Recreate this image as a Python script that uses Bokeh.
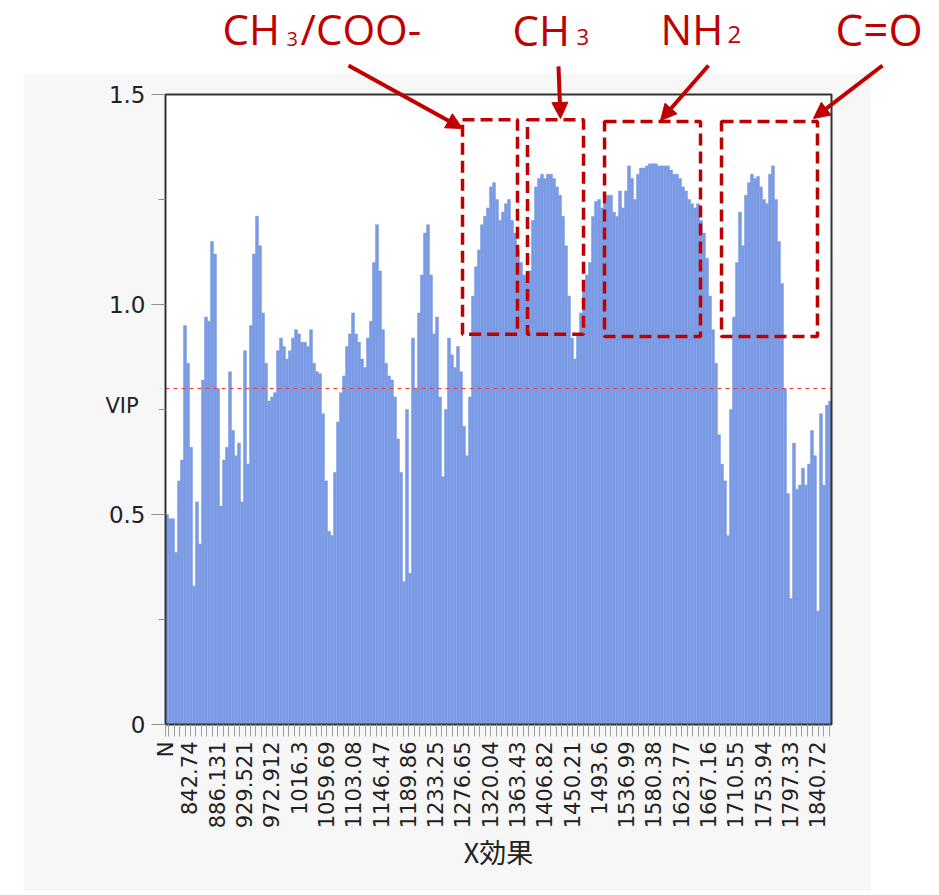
import math
from bokeh.plotting import figure
from bokeh.models import (Range1d, FixedTicker, CustomJSTickFormatter, BoxAnnotation,
                          Label, Arrow, NormalHead)
from bokeh.embed import file_html
from bokeh.resources import INLINE

# ---------------- data ----------------
WN_LO, WN_HI = 803.0, 1862.0          # wavenumber span of the plot area
WN_START, WN_STEP = 805.39, 4.77      # wavenumber grid of the VIP bars
VIP_LO, VIP_HI = 0.0, 1.5

vip = [0.50, 0.49, 0.49, 0.41, 0.58, 0.63, 0.95, 0.86, 0.66, 0.33,
       0.53, 0.43, 0.82, 0.97, 0.96, 1.15, 1.12, 0.80, 0.52, 0.63,
       0.66, 0.84, 0.70, 0.64, 0.67, 0.53, 0.89, 0.62, 0.95, 1.12,
       1.21, 1.14, 0.98, 0.86, 0.77, 0.78, 0.79, 0.89, 0.92, 0.90,
       0.87, 0.89, 0.92, 0.94, 0.93, 0.91, 0.91, 0.90, 0.94, 0.86,
       0.84, 0.835, 0.74, 0.58, 0.46, 0.45, 0.60, 0.72, 0.79, 0.83,
       0.90, 0.93, 0.98, 0.93, 0.91, 0.87, 0.85, 0.92, 0.96, 1.10,
       1.19, 1.08, 0.94, 0.86, 0.83, 0.82, 0.78, 0.68, 0.60, 0.34,
       0.75, 0.36, 0.92, 0.80, 0.98, 1.07, 1.17, 1.19, 1.07, 0.93,
       0.97, 0.78, 0.59, 0.75, 0.92, 0.88, 0.85, 0.90, 0.84, 0.71,
       0.64, 0.78, 1.02, 1.09, 1.13, 1.19, 1.21, 1.23, 1.28, 1.29,
       1.25, 1.20, 1.22, 1.24, 1.25, 1.20, 1.17, 1.13, 1.10, 1.07,
       1.06, 1.08, 1.20, 1.28, 1.30, 1.31, 1.30, 1.31, 1.31, 1.30,
       1.28, 1.26, 1.21, 1.14, 1.02, 0.92, 0.87, 0.93, 0.98, 1.03,
       1.07, 1.10, 1.21, 1.245, 1.25, 1.23, 1.24, 1.26, 1.26, 1.22,
       1.21, 1.27, 1.23, 1.27, 1.33, 1.30, 1.25, 1.31, 1.325, 1.325,
       1.33, 1.335, 1.335, 1.335, 1.33, 1.33, 1.33, 1.33, 1.32, 1.31,
       1.31, 1.30, 1.28, 1.27, 1.25, 1.24, 1.23, 1.24, 1.20, 1.17,
       1.11, 1.02, 0.94, 0.86, 0.69, 0.62, 0.58, 0.45, 0.75, 0.97,
       1.10, 1.22, 1.14, 1.26, 1.29, 1.31, 1.30, 1.305, 1.28, 1.25,
       1.24, 1.31, 1.33, 1.25, 1.15, 1.05, 0.80, 0.55, 0.30, 0.67,
       0.56, 0.57, 0.61, 0.57, 0.62, 0.70, 0.64, 0.27, 0.74, 0.57,
       0.76, 0.77]

x_tick_labels = ["N", "842.74", "886.131", "929.521", "972.912", "1016.3", "1059.69",
                 "1103.08", "1146.47", "1189.86", "1233.25", "1276.65", "1320.04",
                 "1363.43", "1406.82", "1450.21", "1493.6", "1536.99", "1580.38",
                 "1623.77", "1667.16", "1710.55", "1753.94", "1797.33", "1840.72"]
x_tick_pos = [WN_LO] + [float(s) for s in x_tick_labels[1:]]
LABEL_STEP = 43.39

y_ticks = [0, 0.5, 1.0, 1.5]
y_minor = [0.25, 0.75, 1.25]
VIP_THRESHOLD = 0.8

# highlighted regions (wn_left, wn_right, vip_bottom, vip_top)
regions = [
    (1275.3, 1362.7, 0.929, 1.440),
    (1378.6, 1467.7, 0.929, 1.440),
    (1501.1, 1653.7, 0.924, 1.436),
    (1687.1, 1839.7, 0.924, 1.436),
]

wn = [WN_START + WN_STEP * i for i in range(len(vip))]

# ---------------- geometry ----------------
W, H = 935, 891                  # canvas = frame (axes are drawn inside it)
PLOT_L, PLOT_T, PLOT_W, PLOT_H = 165, 94, 666, 630
PX_PER_WN = PLOT_W / (WN_HI - WN_LO)
PX_PER_VIP = PLOT_H / (VIP_HI - VIP_LO)
x_range = Range1d(WN_LO - PLOT_L / PX_PER_WN, WN_LO + (W - PLOT_L) / PX_PER_WN)
y_range = Range1d(VIP_LO - (H - PLOT_T - PLOT_H) / PX_PER_VIP, VIP_HI + PLOT_T / PX_PER_VIP)

RED = "#c00000"
TXT = "#222222"
GREY_BG = "#f7f7f7"

p = figure(frame_width=W, frame_height=H, min_border=0,
           x_range=x_range, y_range=y_range,
           output_backend="svg", toolbar_location=None,
           border_fill_color="white", background_fill_color="white")
p.grid.visible = False
p.outline_line_color = None

# grey panel and white plot area
p.quad(left=[577.2], right=[1924.0], bottom=[-0.6], top=[1.55],
       fill_color=GREY_BG, line_color=None)
p.quad(left=[WN_LO], right=[WN_HI], bottom=[VIP_LO], top=[VIP_HI],
       fill_color="white", line_color=None)

# VIP bars
p.vbar(x=wn, top=vip, width=WN_STEP, bottom=0,
       fill_color="#7b9ae4", line_color="#7b9ae4", line_width=0.5)

# threshold line
p.segment(x0=[WN_LO], y0=[VIP_THRESHOLD], x1=[WN_HI], y1=[VIP_THRESHOLD],
          line_color="#f03a3a", line_dash="4 4", line_width=1.2)

# plot box
p.quad(left=[WN_LO], right=[WN_HI], bottom=[VIP_LO], top=[VIP_HI],
       fill_alpha=0, line_color="#333333", line_width=2)

# ---------------- axes (drawn at fixed locations inside the canvas) ----------------
xa = p.xaxis[0]
xa.fixed_location = VIP_LO
xa.bounds = (WN_LO, WN_HI)
xa.ticker = FixedTicker(
    ticks=x_tick_pos,
    minor_ticks=[x_tick_pos[1] + k * LABEL_STEP / 5 for k in range(-4, 120)
                 if WN_LO < x_tick_pos[1] + k * LABEL_STEP / 5 < WN_HI and k % 5 != 0])
xa.major_label_overrides = {pos: lab for pos, lab in zip(x_tick_pos, x_tick_labels)}
xa.major_label_orientation = math.pi / 2
xa.major_label_text_font = "DejaVu Sans"
xa.major_label_text_font_size = "21px"
xa.major_label_text_color = TXT
xa.major_label_standoff = 5
xa.major_tick_out = 12
xa.major_tick_in = 0
xa.minor_tick_out = 12
xa.minor_tick_in = 0
xa.major_tick_line_color = "#a0a0a0"
xa.minor_tick_line_color = "#a0a0a0"
xa.axis_line_color = None
xa.axis_label = "X効果"
xa.axis_label_text_font = "Noto Sans CJK JP"
xa.axis_label_text_font_size = "27px"
xa.axis_label_text_font_style = "normal"
xa.axis_label_text_color = TXT
xa.axis_label_standoff = 1

ya = p.yaxis[0]
ya.fixed_location = WN_LO
ya.bounds = (VIP_LO, VIP_HI)
ya.ticker = FixedTicker(ticks=y_ticks, minor_ticks=y_minor)
ya.formatter = CustomJSTickFormatter(code="return tick == 0 ? '0' : tick.toFixed(1);")
ya.major_label_text_font = "DejaVu Sans"
ya.major_label_text_font_size = "23px"
ya.major_label_text_color = TXT
ya.major_label_standoff = 6
ya.major_tick_out = 14
ya.major_tick_in = 0
ya.minor_tick_out = 7
ya.minor_tick_in = 0
ya.major_tick_line_color = "#909090"
ya.minor_tick_line_color = "#909090"
ya.axis_line_color = None

p.add_layout(Label(x=707.6, y=0.7595, text="VIP", text_font="DejaVu Sans",
                   text_font_size="21px", text_color=TXT, text_baseline="alphabetic"))

# ---------------- annotations ----------------
for (l, r, b, t) in regions:
    p.add_layout(BoxAnnotation(left=l, right=r, bottom=b, top=t, fill_alpha=0,
                               line_color=RED, line_alpha=1.0, line_width=3.5,
                               line_dash="12 6", level="overlay"))

def lab(x, y, text, size):
    p.add_layout(Label(x=x, y=y, text=text, text_font="Open Sans", text_font_size=size,
                       text_color=RED, text_baseline="alphabetic", text_align="left",
                       level="overlay"))

lab(893.6, 1.657, "CH", "42px")
lab(995.4, 1.633, "3", "20px")
lab(1017.7, 1.657, "/COO-", "42px")
lab(1354.8, 1.655, "CH", "42px")
lab(1456.5, 1.638, "3", "22px")
lab(1590.1, 1.657, "NH", "42px")
lab(1696.6, 1.643, "2", "24px")
lab(1868.4, 1.657, "C=O", "44px")

arrows = [((1094.0, 1.569), (1275.3, 1.419)),
          ((1427.9, 1.567), (1431.1, 1.443)),
          ((1666.4, 1.569), (1590.1, 1.438)),
          ((1943.1, 1.569), (1833.4, 1.443))]
for (xs, ys), (xe, ye) in arrows:
    p.add_layout(Arrow(x_start=xs, y_start=ys, x_end=xe, y_end=ye,
                       line_color=RED, line_width=4, level="overlay",
                       end=NormalHead(size=16, fill_color=RED, line_color=RED)))

open("out.html", "w").write(file_html(p, INLINE))
